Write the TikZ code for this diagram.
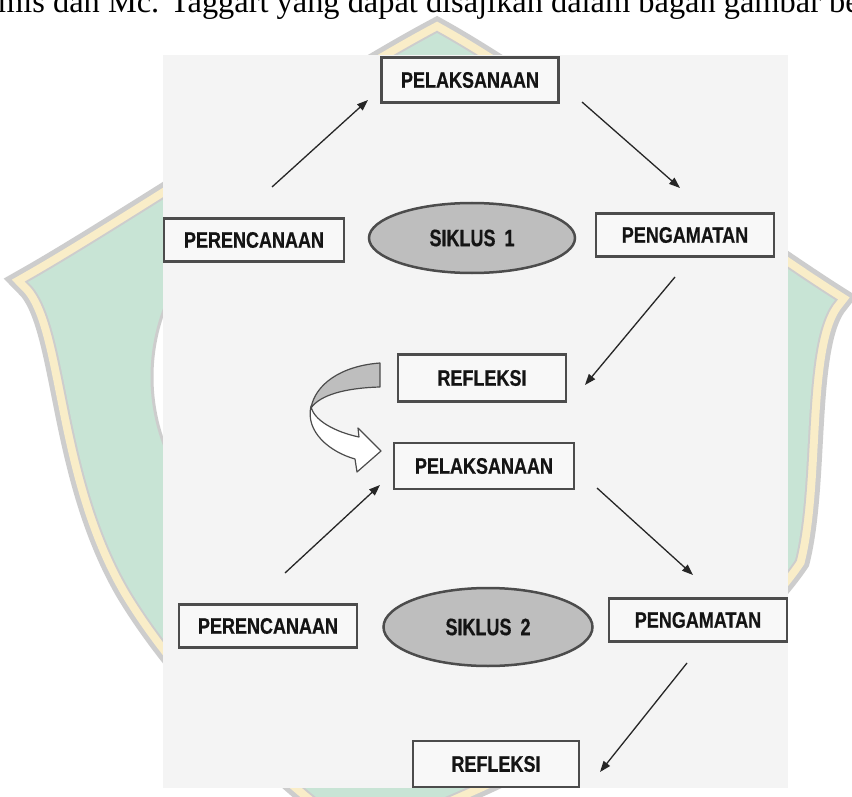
\documentclass[tikz,border=0pt]{standalone}
\usepackage{graphicx}
\usepackage{fontspec}
\setmainfont{Liberation Serif}
\newfontfamily\boxfont[BoldFeatures={FakeBold=0.6}]{Liberation Sans}
\usetikzlibrary{arrows.meta,shapes.geometric}

\definecolor{panelgray}{HTML}{F4F4F4}
\definecolor{boxfill}{HTML}{F8F8F8}
\definecolor{boxline}{HTML}{4C4C4C}
\definecolor{ovalfill}{HTML}{BEBEBE}
\definecolor{shieldgreen}{HTML}{C8E4D5}
\definecolor{shieldyellow}{HTML}{F9EDC8}
\definecolor{shieldgray}{HTML}{CDCDCD}

\newcommand{\boxlbl}[1]{\scalebox{1}[1.25]{#1}}
\newcommand{\ovallbl}[1]{\scalebox{1}[1.32]{#1}}

\tikzset{
  arr/.style={-{Triangle[length=11pt,width=8pt]}, line width=1.3pt, black!85},
  oval/.style={ellipse, fill=ovalfill}
}

\begin{document}
\begin{tikzpicture}[x=1pt,y=-1pt]
			\clip (0,0) rectangle (852,797);
			\fill[white] (0,0) rectangle (852,797);
			
			% watermark behind the panel
			\path[save path=\shieldpath] (437,33) .. controls (330,90) and (120,230) .. (28,282)
			  .. controls (70,320) and (60,470) .. (130,590)
			  .. controls (190,690) and (300,790) .. (360,830)
			  .. controls (420,810) and (700,700) .. (795,560)
			  .. controls (815,480) and (800,340) .. (835,300)
			  .. controls (740,240) and (540,90) .. (437,33) -- cycle;
			\begin{scope}[line join=miter, miter limit=2]
			\draw[shieldgray, line width=30pt, use path=\shieldpath];
			\draw[shieldyellow, line width=20pt, use path=\shieldpath];
			\draw[shieldgray, line width=4pt, use path=\shieldpath];
			\fill[shieldgreen, use path=\shieldpath];
			\end{scope}
			\draw[shieldgray, line width=3pt, fill=white] (344,377) circle (192);
			
			\fill[panelgray] (163,55) rectangle (788,788);
			
			\node[anchor=base west, inner sep=0, font=\fontsize{32.4}{36}\selectfont] (caption) at (-2,13)
			  {mis dan Mc. Taggart yang dapat disajikan dalam bagan gambar be};
			
			\begin{scope}[every node/.style={draw=boxline, line width=2.5pt, fill=boxfill, inner sep=0,
			    text=black!92, font=\boxfont\bfseries\fontsize{18}{20}\selectfont}]
			\node[minimum width=177pt, minimum height=45pt] (pel1) at (470, 80)  {\boxlbl{PELAKSANAAN}};
			\node[minimum width=180pt, minimum height=43pt] (per1) at (254, 240) {\boxlbl{PERENCANAAN}};
			\node[oval, minimum width=206pt, minimum height=70pt] (sik1) at (472, 238) {\ovallbl{SIKLUS\hspace{9pt}1}};
			\node[minimum width=178pt, minimum height=43pt] (pen1) at (685, 235) {\boxlbl{PENGAMATAN}};
			\node[minimum width=168pt, minimum height=47pt] (ref1) at (482, 378) {\boxlbl{REFLEKSI}};
			
			\node[minimum width=180pt, minimum height=46pt] (pel2) at (484, 466) {\boxlbl{PELAKSANAAN}};
			\node[minimum width=178pt, minimum height=43pt] (per2) at (268, 626) {\boxlbl{PERENCANAAN}};
			\node[oval, minimum width=209pt, minimum height=78pt] (sik2) at (488, 627) {\ovallbl{SIKLUS\hspace{9pt}2}};
			\node[minimum width=178pt, minimum height=43pt] (pen2) at (698, 620) {\boxlbl{PENGAMATAN}};
			\node[minimum width=166pt, minimum height=46pt] (ref2) at (496, 764) {\boxlbl{REFLEKSI}};
			\end{scope}
			
			% free arrow ends
			\coordinate (a1s) at (272,187); \coordinate (a1e) at (368,100);
			\coordinate (a2s) at (582,102); \coordinate (a2e) at (680,188);
			\coordinate (a3s) at (675,277); \coordinate (a3e) at (585,385);
			\coordinate (b1s) at (285,573); \coordinate (b1e) at (380,485);
			\coordinate (b2s) at (597,488); \coordinate (b2e) at (693,575);
			\coordinate (b3s) at (687,663); \coordinate (b3e) at (600,772);
			
			\path [arr] (a1s) edge (a1e);
			\path [arr] (a2s) edge (a2e);
			\path [arr] (a3s) edge (a3e);
			
			\path [arr] (b1s) edge (b1e);
			\path [arr] (b2s) edge (b2e);
			\path [arr] (b3s) edge (b3e);
			
			% curved block arrow from cycle 1 to cycle 2
			\draw[boxline, line width=1.2pt, fill=ovalfill, line join=round]
			  (380,363) .. controls (340,366) and (315,385) .. (311,408)
			  .. controls (320,395) and (345,388) .. (380,387) -- cycle;
			\draw[boxline, line width=1.2pt, fill=white, line join=round]
			  (311,406) .. controls (305,432) and (330,452) .. (355,459)
			  -- (357,472) -- (381,451) -- (358,428) -- (359,437)
			  .. controls (335,432) and (313,420) .. (311,406) -- cycle;
\end{tikzpicture}
\end{document}
